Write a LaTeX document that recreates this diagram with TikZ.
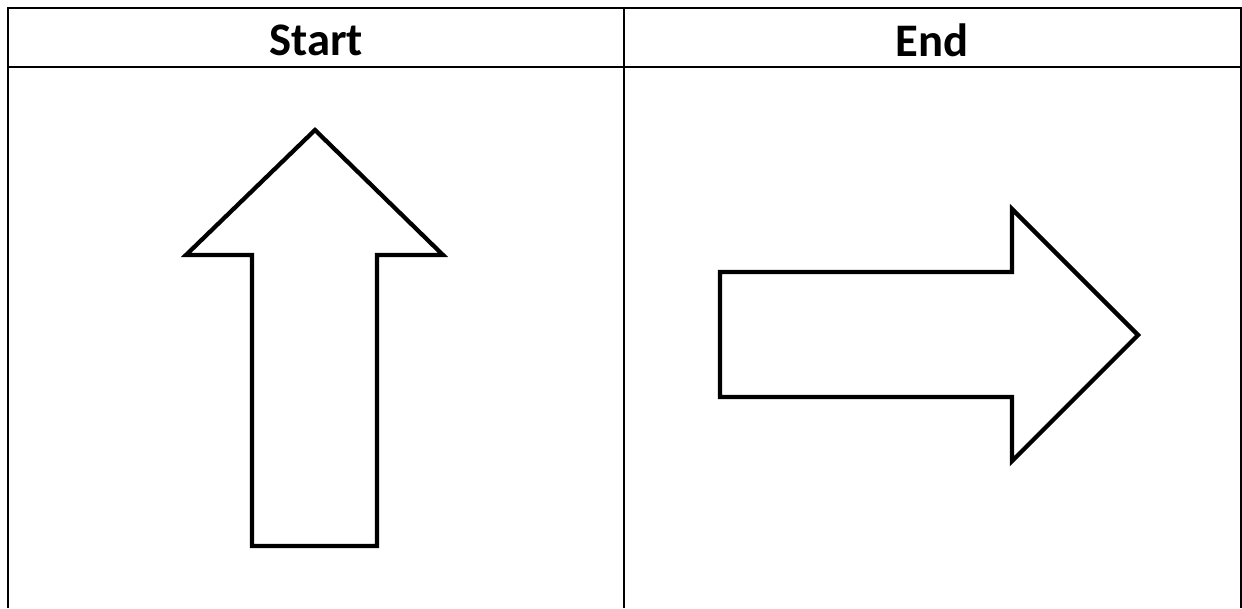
\documentclass[tikz,border=0pt]{standalone}
\usepackage{fontspec}
\setmainfont{Carlito}
\begin{document}
\begin{tikzpicture}[x=0.75pt,y=-0.75pt,
  grid/.style={line width=2.2pt},
  arrowshape/.style={line width=3.2pt,line join=miter},
  head/.style={font=\bfseries\fontsize{35}{40}\selectfont}]
\useasboundingbox (0,0) rectangle (1242,608);
\fill[white] (0,0) rectangle (1242,608);
% table
\draw[grid] (8,608) -- (8,8) -- (1241,8) -- (1241,608);
\draw[grid] (8,67) -- (1241,67);
\draw[grid] (624,8) -- (624,608);
\node[head] (start) at (316,40) {Start};
\node[head] (end) at (932,40) {End};
% up arrow
\draw[arrowshape] (315,130) -- (443,255) -- (377,255) -- (377,546) -- (252,546) -- (252,255) -- (186,255) -- cycle;
% right arrow
\draw[arrowshape] (1138,335) -- (1012,461) -- (1012,397) -- (720,397) -- (720,272) -- (1012,272) -- (1012,209) -- cycle;
\end{tikzpicture}
\end{document}
